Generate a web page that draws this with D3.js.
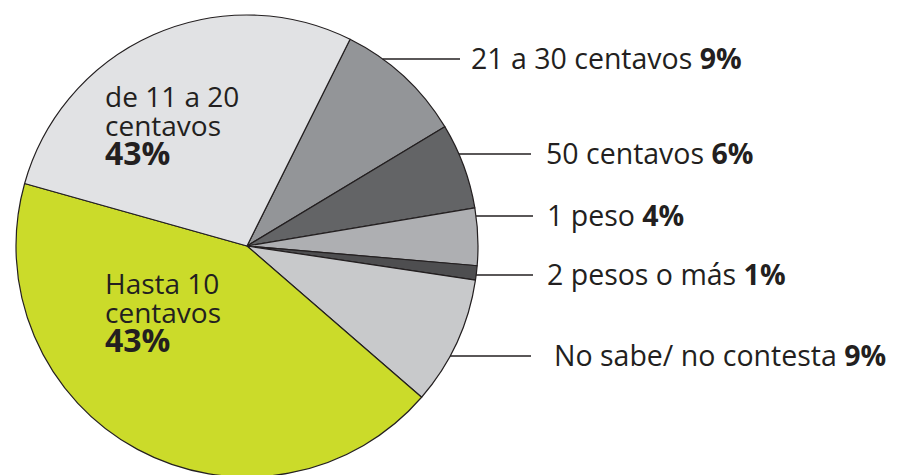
<!DOCTYPE html>
<html>
<head>
<meta charset="utf-8">
<script src="https://cdn.jsdelivr.net/npm/d3@7"></script>
<style>
  body { margin: 0; background: #fff; }
  svg { display: block; }
  text { font-family: "Open Sans", "Noto Sans", sans-serif; fill: #231f20; }
</style>
</head>
<body>
<svg id="chart" width="902" height="475"></svg>
<script>
// clockwise from the top, starting with "21 a 30 centavos"
const categories = ["21 a 30 centavos", "50 centavos", "1 peso", "2 pesos o más",
                    "No sabe/ no contesta", "Hasta 10 centavos", "de 11 a 20 centavos"]
const shares = [9, 6, 4, 1, 9, 43, 28]          // slice sizes as drawn
const printed = ["9%", "6%", "4%", "1%", "9%", "43%", "43%"]   // percentages written on the chart
const colors = ["#939598", "#636466", "#aeafb2", "#4e4e50", "#c8c9cb", "#cbdb2a", "#e1e2e4"]

const svg = d3.select("#chart")
const cx = 247, cy = 246, r = 231

const pie = d3.pie().sort(null).value(d => d.v)
  .startAngle(26.5 * Math.PI / 180)
  .endAngle(26.5 * Math.PI / 180 + 2 * Math.PI)
const arc = d3.arc().innerRadius(0).outerRadius(r)

const data = categories.map((c, i) => ({ c: c, v: shares[i], p: printed[i], col: colors[i] }))

const g = svg.append("g").attr("transform", `translate(${cx},${cy})`)
g.selectAll("path")
  .data(pie(data))
  .enter()
  .append("path")
  .attr("d", arc)
  .attr("fill", d => d.data.col)
  .attr("stroke", "#231f20")
  .attr("stroke-width", 1.2)
  .attr("stroke-linejoin", "round")

// outside labels with leader lines
const outside = [
  { i: 0, y: 59, x2: 460, tx: 471 },
  { i: 1, y: 154, x2: 531, tx: 546 },
  { i: 2, y: 216, x2: 533, tx: 547 },
  { i: 3, y: 275, x2: 533, tx: 547 },
  { i: 4, y: 356, x2: 531, tx: 554 }
]
outside.forEach(o => {
  const dy = o.y - cy
  const x1 = cx + Math.sqrt(r * r - dy * dy)
  svg.append("line")
    .attr("x1", x1).attr("x2", o.x2)
    .attr("y1", o.y).attr("y2", o.y)
    .attr("stroke", "#231f20").attr("stroke-width", 1.5)
  const t = svg.append("text")
    .attr("x", o.tx).attr("y", o.y + 10)
    .style("font-size", "28.5px")
  t.append("tspan").text(categories[o.i] + " ")
  t.append("tspan").attr("font-weight", "bold").text(printed[o.i])
})

// inside labels
const inside = [
  { i: 6, lines: ["de 11 a 20", "centavos"], x: 105, y: 107 },
  { i: 5, lines: ["Hasta 10", "centavos"], x: 105, y: 294 }
]
inside.forEach(o => {
  const t = svg.append("text")
    .attr("x", o.x).attr("y", o.y)
    .style("font-size", "28px")
  o.lines.forEach((l, k) => {
    t.append("tspan").attr("x", o.x).attr("dy", k === 0 ? 0 : 28.5).text(l)
  })
  t.append("tspan").attr("x", o.x).attr("dy", 29.5)
    .attr("font-weight", "bold").style("font-size", "32px").text(printed[o.i])
})
</script>
</body>
</html>
